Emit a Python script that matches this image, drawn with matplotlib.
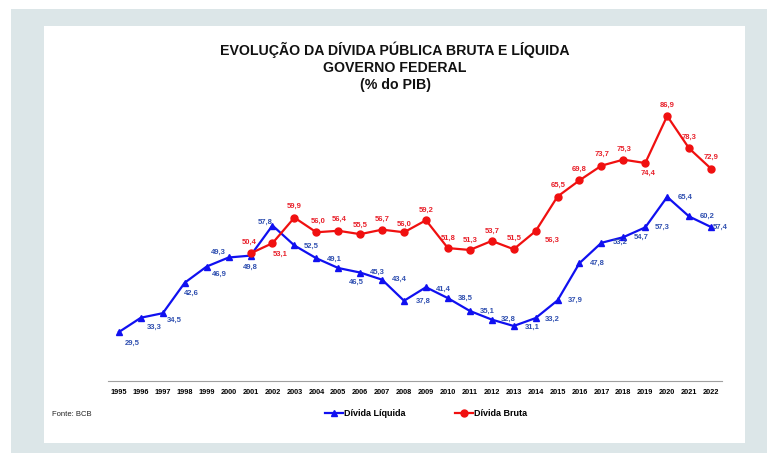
import matplotlib
matplotlib.use("Agg")
import matplotlib.pyplot as plt
from matplotlib.patches import Rectangle
from matplotlib.lines import Line2D

plt.rcParams['font.family'] = ['Liberation Sans', 'DejaVu Sans']

years = list(range(1995, 2023))
liquida = [29.5, 33.3, 34.5, 42.6, 46.9, 49.3, 49.8, 57.8, 52.5, 49.1, 46.5, 45.3, 43.4, 37.8,
           41.4, 38.5, 35.1, 32.8, 31.1, 33.2, 37.9, 47.8, 53.2, 54.7, 57.3, 65.4, 60.2, 57.4]
bruta_years = list(range(2001, 2023))
bruta = [50.4, 53.1, 59.9, 56.0, 56.4, 55.5, 56.7, 56.0, 59.2, 51.8, 51.3, 53.7, 51.5, 56.3,
         65.5, 69.8, 73.7, 75.3, 74.4, 86.9, 78.3, 72.9]

title = "EVOLUÇÃO DA DÍVIDA PÚBLICA BRUTA E LÍQUIDA\nGOVERNO FEDERAL\n(% do PIB)"
source = "Fonte: BCB"
label_liq = "Dívida Líquida"
label_bru = "Dívida Bruta"

# label offsets in pixels (dx, dy) - style only
liq_off = [(13, -11), (13, -10), (11, -7), (7, -11), (13, -8), (-10, 5), (0, -12), (-7, 3),
           (17, -1), (18, -1), (18, -14), (17, 0), (17, 0), (19, -1), (17, -2), (17, 0),
           (17, 0), (17, 0), (19, -1), (17, -1), (18, 0), (18, 0), (19, 0), (18, 0), (17, 0),
           (18, 0), (18, 0), (9, 0)]
bru_off = [(-1, 11), (8, -11), (0, 11), (2, 11), (1, 11), (0, 9), (0, 10), (0, 8), (0, 10),
           (0, 10), (0, 10), (0, 10), (0, 11), (17, -9), (1, 11), (0, 11), (1, 11), (1, 10),
           (3, -10), (0, 11), (0, 11), (0, 11)]

W, H = 767, 453
fig = plt.figure(figsize=(W / 100, H / 100), dpi=100)
fig.patch.set_facecolor('white')

bg = '#dce6e8'
fig.patches.append(Rectangle((11 / W, 0), 1 - 11 / W, 1 - 9 / H, transform=fig.transFigure,
                             facecolor=bg, edgecolor='none', zorder=-10))
fig.patches.append(Rectangle((44 / W, 1 - 443 / H), (745 - 44) / W, (443 - 26) / H,
                             transform=fig.transFigure, facecolor='white', edgecolor='none', zorder=-9))

ax = fig.add_axes([108 / W, 1 - 381 / H, 614 / W, (381 - 95) / H])
ax.set_facecolor('none')

blue = '#1010f0'
red = '#f01010'
blue_txt = '#2f4fb0'
red_txt = '#e8202a'

ax.plot(years, liquida, color=blue, lw=1.6, marker='^', markersize=5, zorder=3)
ax.plot(bruta_years, bruta, color=red, lw=1.6, marker='o', markersize=5, zorder=3)

for x, y, (dx, dy) in zip(years, liquida, liq_off):
    ax.annotate(f"{y:.1f}".replace('.', ','), (x, y), xytext=(dx, dy), textcoords='offset pixels',
                ha='center', va='center', fontsize=5.5, fontweight='bold', color=blue_txt, zorder=4)
for x, y, (dx, dy) in zip(bruta_years, bruta, bru_off):
    ax.annotate(f"{y:.1f}".replace('.', ','), (x, y), xytext=(dx, dy), textcoords='offset pixels',
                ha='center', va='center', fontsize=5.5, fontweight='bold', color=red_txt, zorder=4)

ax.set_xlim(1994.5, 2022.5)
ax.set_ylim(16.48, 92.48)
ax.set_xticks(years)
ax.set_xticklabels([str(y) for y in years], fontsize=5.3, fontweight='bold')
ax.tick_params(axis='x', length=0, pad=6)
ax.set_yticks([])
for s in ['top', 'right', 'left']:
    ax.spines[s].set_visible(False)
ax.spines['bottom'].set_color('#a0a0a0')
ax.spines['bottom'].set_linewidth(0.8)

fig.text(395 / W, 1 - 41 / H, title, ha='center', va='top', fontsize=10.2, fontweight='bold',
         linespacing=1.3, color='#111111')
fig.text(52 / W, 1 - 414 / H, source, ha='left', va='center', fontsize=5.5, color='#222222')

h1 = Line2D([], [], color=blue, lw=1.6, marker='^', markersize=5)
h2 = Line2D([], [], color=red, lw=1.6, marker='o', markersize=5)
fig.legend([h1, h2], [label_liq, label_bru], loc='center', bbox_to_anchor=(426 / W, 1 - 414 / H),
           ncol=2, frameon=False, prop={'size': 6.5, 'weight': 'bold'}, handlelength=2.0,
           handletextpad=0.1, columnspacing=5.5)

fig.savefig('out.png', dpi=100)
